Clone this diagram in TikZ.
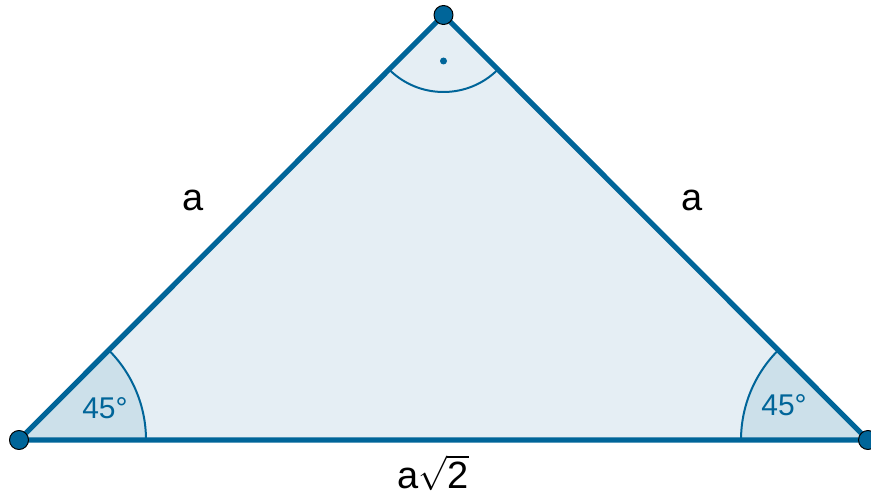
\documentclass[tikz,border=0pt]{standalone}
\usepackage{fontspec}
\setmainfont{Liberation Sans}
\usetikzlibrary{calc}
\definecolor{azul}{RGB}{0,101,153}
\definecolor{relleno}{RGB}{229,238,244}
\definecolor{angulo}{RGB}{204,224,234}

\begin{document}
\begin{tikzpicture}[x=0.5pt, y=0.5pt, line join=round]
    \useasboundingbox (0,0) rectangle (871,493);
    % triángulo rectángulo isósceles: catetos a, hipotenusa a*sqrt(2)
    \coordinate (A) at (19,53); \coordinate (B) at (868,53);
    \coordinate (C) at (443.5,478);
    \fill[relleno] (A) -- (B) -- (C) -- cycle;
    % ángulos de 45 grados
    \fill[angulo] (A) -- ($(A)+(0:127)$) arc[start angle=0, end angle=45, radius=127] -- cycle;
    \fill[angulo] (B) -- ($(B)+(180:127)$) arc[start angle=180, end angle=135, radius=127] -- cycle;
    \draw[azul, line width=1pt] ($(A)+(0:127)$) arc[start angle=0, end angle=45, radius=127];
    \draw[azul, line width=1pt] ($(B)+(180:127)$) arc[start angle=180, end angle=135, radius=127];
    % ángulo recto
    \draw[azul, line width=1pt] ($(C)+(225:77)$) arc[start angle=225, end angle=315, radius=77];
    \fill[azul] ($(C)+(0,-46)$) circle[radius=3.5];
    % lados
    \draw[azul, line width=2.6pt] (A) -- (B) -- (C) -- cycle;
    % vértices
    \foreach \p in {A,B,C}
        \filldraw[fill=azul, draw=black, line width=0.5pt] (\p) circle[radius=9.5];
    \node[azul, inner sep=0pt, font=\fontsize{15}{18}\selectfont] (angA) at (105,85) {45°};
    \node[azul, inner sep=0pt, font=\fontsize{15}{18}\selectfont] (angB) at (784,88) {45°};
    \node[inner sep=0pt, font=\fontsize{19}{22}\selectfont] (ladoAC) at (193,293) {a};
    \node[inner sep=0pt, font=\fontsize{19}{22}\selectfont] (ladoBC) at (692,293) {a};
    \node[inner sep=0pt, font=\fontsize{19}{22}\selectfont] (ladoAB) at (433,20) {a$\sqrt{\mbox{2}}$};
\end{tikzpicture}
\end{document}
